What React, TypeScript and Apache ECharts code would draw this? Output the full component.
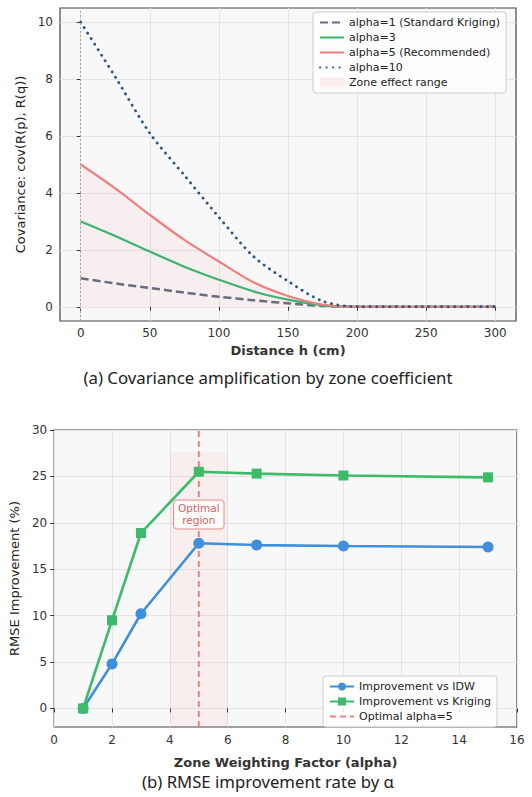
import React, { useEffect, useRef } from "react";
import * as echarts from "echarts";

// ---- Chart (a): covariance vs distance ----
const H = [0, 25, 50, 75, 100, 125, 150, 175, 200, 250, 300];
const COV_A1 = [1.0, 0.82, 0.66, 0.5, 0.35, 0.23, 0.12, 0.03, 0, 0, 0];
const COV_A3 = [3.0, 2.49, 1.94, 1.41, 0.95, 0.54, 0.25, 0.05, 0, 0, 0];
const COV_A5 = [5.0, 4.16, 3.23, 2.35, 1.59, 0.86, 0.38, 0.08, 0, 0, 0];
const COV_A10 = [10.0, 8.08, 6.1, 4.62, 3.15, 1.77, 0.9, 0.2, 0, 0, 0];
const X_TICKS_A = [0, 50, 100, 150, 200, 250, 300];
const Y_TICKS_A = [0, 2, 4, 6, 8, 10];

// ---- Chart (b): RMSE improvement vs alpha ----
const ALPHA = [1, 2, 3, 5, 7, 10, 15];
const IMPR_IDW = [0, 4.8, 10.2, 17.8, 17.6, 17.5, 17.4];
const IMPR_KRIG = [0, 9.5, 18.9, 25.5, 25.3, 25.1, 24.9];
const OPT_LINE = [[5, -2], [5, 30]];
const OPT_REGION = [4, 6, -2, 27.6];
const OPT_LABEL = [5, 20.9];
const Y_TICKS_B = [0, 5, 10, 15, 20, 25, 30];

const FONT = "DejaVu Sans";
const pair = (xs: number[], ys: number[]) => xs.map((x, i) => [x, ys[i]]);

const axisCommon = {
  axisLine: { show: false },
  axisTick: { show: true, inside: false, length: 4, lineStyle: { color: "#333", width: 1 } },
  splitLine: { show: true, lineStyle: { color: "#e4e4e4", width: 1 } },
};
const labelStyle = { color: "#333", fontSize: 12, fontFamily: FONT };
const xNameStyle = { color: "#333", fontSize: 13, fontWeight: "bold", fontFamily: FONT };
const yNameStyle = { color: "#222", fontSize: 13, fontFamily: FONT };
const noSym = { color: "rgba(0,0,0,0)", borderWidth: 0 };
const SMOOTH = 0.3;

export default function App() {
  const ref = useRef<HTMLDivElement>(null);
  useEffect(() => {
    if (!ref.current) return;
    const chart = echarts.init(ref.current, null, { renderer: "svg" });
    const option: any = {
      animation: false,
      backgroundColor: "#ffffff",
      grid: [
        { left: 60, top: 8, width: 456, height: 313, show: true, backgroundColor: "#f8f8f8", borderColor: "#444", borderWidth: 1.2 },
        { left: 54, top: 430, width: 463, height: 297, show: true, backgroundColor: "#f8f8f8", borderColor: "#444", borderWidth: 1.2 },
      ],
      xAxis: [
        {
          ...axisCommon, gridIndex: 0, type: "value", min: -15, max: 315,
          axisTick: { ...axisCommon.axisTick, customValues: X_TICKS_A },
          axisLabel: { ...labelStyle, customValues: X_TICKS_A, margin: 6 },
          name: "Distance h (cm)", nameLocation: "middle", nameGap: 23, nameTextStyle: xNameStyle,
        },
        {
          ...axisCommon, gridIndex: 1, type: "value", min: 0, max: 16, interval: 2,
          axisLabel: { ...labelStyle, margin: 7 },
          name: "Zone Weighting Factor (alpha)", nameLocation: "middle", nameGap: 29, nameTextStyle: xNameStyle,
        },
      ],
      yAxis: [
        {
          ...axisCommon, gridIndex: 0, type: "value", min: -0.5, max: 10.5,
          axisTick: { ...axisCommon.axisTick, customValues: Y_TICKS_A },
          axisLabel: { ...labelStyle, customValues: Y_TICKS_A, margin: 7 },
          name: "Covariance: cov(R(p), R(q))", nameLocation: "middle", nameGap: 30, nameTextStyle: yNameStyle,
        },
        {
          ...axisCommon, gridIndex: 1, type: "value", min: -2, max: 30,
          axisTick: { ...axisCommon.axisTick, customValues: Y_TICKS_B },
          axisLabel: { ...labelStyle, customValues: Y_TICKS_B, margin: 7 },
          name: "RMSE Improvement (%)", nameLocation: "middle", nameGap: 29, nameTextStyle: yNameStyle,
        },
      ],
      legend: [
        {
          orient: "vertical", left: 313, top: 12, itemWidth: 24, itemHeight: 10, itemGap: 4,
          textStyle: { color: "#222", fontSize: 11, fontFamily: FONT, lineHeight: 11 },
          backgroundColor: "rgba(255,255,255,0.85)", borderColor: "#ccc", borderWidth: 1, borderRadius: 3, padding: [5, 6, 5, 6],
          data: [
            { name: "alpha=1 (Standard Kriging)", itemStyle: noSym },
            { name: "alpha=3", itemStyle: noSym },
            { name: "alpha=5 (Recommended)", itemStyle: noSym },
            { name: "alpha=10", itemStyle: noSym },
            { name: "Zone effect range", icon: "rect", itemStyle: { color: "rgba(240,128,128,0.14)" } },
          ],
        },
        {
          orient: "vertical", left: 323, top: 676, itemWidth: 24, itemHeight: 10, itemGap: 4,
          textStyle: { color: "#222", fontSize: 11, fontFamily: FONT, lineHeight: 11 },
          backgroundColor: "rgba(255,255,255,0.85)", borderColor: "#ccc", borderWidth: 1, borderRadius: 3, padding: [5, 6, 5, 6],
          data: ["Improvement vs IDW", "Improvement vs Kriging", { name: "Optimal alpha=5", itemStyle: noSym }],
        },
      ],
      series: [
        {
          name: "Zone effect range", type: "line", xAxisIndex: 0, yAxisIndex: 0,
          data: pair(H, COV_A5), smooth: SMOOTH, showSymbol: false, symbol: "none",
          lineStyle: { opacity: 0, width: 0 }, itemStyle: { color: "rgba(240,128,128,0.14)" },
          areaStyle: { color: "rgba(240,128,128,0.1)", origin: 0 }, z: 1,
          markLine: {
            silent: true, symbol: "none", label: { show: false },
            lineStyle: { color: "#aaa", type: [2, 2], width: 1 },
            data: [{ xAxis: 0 }],
          },
        },
        {
          name: "alpha=1 (Standard Kriging)", type: "line", xAxisIndex: 0, yAxisIndex: 0,
          data: pair(H, COV_A1), smooth: SMOOTH, showSymbol: false, symbol: "none",
          lineStyle: { color: "#6b6b7e", width: 2.5, type: [8, 4] }, itemStyle: { color: "#6b6b7e" }, z: 3,
        },
        {
          name: "alpha=3", type: "line", xAxisIndex: 0, yAxisIndex: 0,
          data: pair(H, COV_A3), smooth: SMOOTH, showSymbol: false, symbol: "none",
          lineStyle: { color: "#3cb371", width: 2.2 }, itemStyle: { color: "#3cb371" }, z: 3,
        },
        {
          name: "alpha=5 (Recommended)", type: "line", xAxisIndex: 0, yAxisIndex: 0,
          data: pair(H, COV_A5), smooth: SMOOTH, showSymbol: false, symbol: "none",
          lineStyle: { color: "#ef7f7f", width: 2.2 }, itemStyle: { color: "#ef7f7f" }, z: 3,
        },
        {
          name: "alpha=10", type: "line", xAxisIndex: 0, yAxisIndex: 0,
          data: pair(H, COV_A10), smooth: SMOOTH, showSymbol: false, symbol: "none",
          lineStyle: { color: "#2f5683", width: 2.8, type: [0.2, 6.3], cap: "round" }, itemStyle: { color: "#2f5683" }, z: 3,
        },
        {
          name: "Optimal alpha=5", type: "line", xAxisIndex: 1, yAxisIndex: 1,
          data: OPT_LINE, showSymbol: false, symbol: "none",
          lineStyle: { color: "#f08080", width: 2, type: [6, 4] }, itemStyle: { color: "#f08080" }, z: 2,
          markArea: {
            silent: true, itemStyle: { color: "rgba(240,128,128,0.08)" },
            data: [[{ xAxis: OPT_REGION[0], yAxis: OPT_REGION[2] }, { xAxis: OPT_REGION[1], yAxis: OPT_REGION[3] }]],
          },
          markPoint: {
            silent: true, symbol: "circle", symbolSize: 0,
            data: [{ coord: OPT_LABEL, value: 0 }],
            label: {
              show: true, position: "inside", formatter: "Optimal\nregion",
              color: "#e06060", fontSize: 10.5, fontFamily: FONT, lineHeight: 12,
              backgroundColor: "rgba(255,255,255,0.85)", borderColor: "#e89090", borderWidth: 1, borderRadius: 3, padding: [2, 4, 2, 4],
            },
          },
        },
        {
          name: "Improvement vs IDW", type: "line", xAxisIndex: 1, yAxisIndex: 1,
          data: pair(ALPHA, IMPR_IDW), symbol: "circle", symbolSize: 11,
          lineStyle: { color: "#3f8fdb", width: 2.6 }, itemStyle: { color: "#3f8fdb" }, z: 4,
        },
        {
          name: "Improvement vs Kriging", type: "line", xAxisIndex: 1, yAxisIndex: 1,
          data: pair(ALPHA, IMPR_KRIG), symbol: "rect", symbolSize: 10,
          lineStyle: { color: "#3dbb6b", width: 2.6 }, itemStyle: { color: "#3dbb6b" }, z: 4,
        },
      ],
      graphic: [
        {
          type: "text", x: 268, y: 377,
          style: { text: "(a) Covariance amplification by zone coefficient", align: "center", verticalAlign: "middle", fontSize: 16.8, fontFamily: "Noto Sans", fill: "#222" },
        },
        {
          type: "text", x: 268, y: 781,
          style: { text: "(b) RMSE improvement rate by α", align: "center", verticalAlign: "middle", fontSize: 16.7, fontFamily: "Noto Sans", fill: "#222" },
        },
      ],
    };
    chart.setOption(option);
    return () => chart.dispose();
  }, []);
  return <div ref={ref} style={{ position: "absolute", left: 0, top: 0, width: 532, height: 797 }} />;
}
